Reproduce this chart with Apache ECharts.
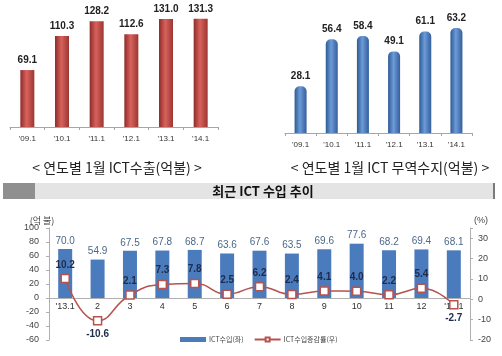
<!DOCTYPE html>
<html><head><meta charset="utf-8">
<script src="https://cdn.jsdelivr.net/npm/echarts@6/dist/echarts.min.js"></script>
<style>html,body{margin:0;padding:0;background:#fff}#c{width:502px;height:356px}</style>
</head><body><div id="c"></div>
<script>
const years = ["'09.1","'10.1","'11.1","'12.1","'13.1","'14.1"];
const exportVals = [69.1,110.3,128.2,112.6,131.0,131.3];
const balanceVals = [28.1,56.4,58.4,49.1,61.1,63.2];
const months = ["'13.1","2","3","4","5","6","7","8","9","10","11","12","'14.1"];
const importVals = [70.0,54.9,67.5,67.8,68.7,63.6,67.6,63.5,69.6,77.6,68.2,69.4,68.1];
const growthVals = [10.2,-10.6,2.1,7.3,7.8,2.5,6.2,2.4,4.1,4.0,2.2,5.4,-2.7];
const belowIdx = [1,12];

const KR = '"Noto Sans CJK KR", sans-serif';
const NUM = '"Liberation Sans", Arial, sans-serif';
const chart = echarts.init(document.getElementById('c'), null, {renderer:'canvas'});

const redGrad = new echarts.graphic.LinearGradient(0,0,1,0,[
  {offset:0,color:'#8e2c29'},{offset:0.45,color:'#d8625d'},{offset:1,color:'#9c3531'}]);
const blueGrad = new echarts.graphic.LinearGradient(0,0,1,0,[
  {offset:0,color:'#2c5a94'},{offset:0.45,color:'#6d9bd8'},{offset:1,color:'#335f9c'}]);

const smallX = (i)=>({
  type:'category', gridIndex:i, data:years,
  axisLine:{lineStyle:{color:'#a6a6a6'}},
  axisTick:{show:true, alignWithLabel:false, lineStyle:{color:'#a6a6a6'}, length:3},
  axisLabel:{fontSize:8, color:'#333', fontFamily:NUM, margin:8}
});

const option = {
  animation:false,
  textStyle:{fontFamily:NUM},
  grid:[
    {left:10, top:10, width:208, height:117},
    {left:285, top:20, width:187, height:113},
    {left:49, top:228, width:421, height:112}
  ],
  xAxis:[
    smallX(0), smallX(1),
    {type:'category', gridIndex:2, data:months, position:'bottom', offset:-42,
     axisLine:{onZero:false, lineStyle:{color:'#b0b0b0'}},
     axisTick:{show:false},
     axisLabel:{fontSize:9, color:'#333', margin:4, fontFamily:NUM}}
  ],
  yAxis:[
    {type:'value', gridIndex:0, min:0, max:142, show:false},
    {type:'value', gridIndex:1, min:0, max:68, show:false},
    {type:'value', gridIndex:2, min:-60, max:100, interval:20,
     splitLine:{show:false},
     axisLine:{show:true, lineStyle:{color:'#b0b0b0'}},
     axisTick:{show:true, length:3, lineStyle:{color:'#b0b0b0'}},
     axisLabel:{fontSize:9, color:'#444', margin:10, fontFamily:NUM}},
    {type:'value', gridIndex:2, position:'right', min:-20, max:35, interval:10,
     alignTicks:false,
     splitLine:{show:false},
     axisLine:{show:true, lineStyle:{color:'#b0b0b0'}},
     axisTick:{show:true, length:3, lineStyle:{color:'#b0b0b0'}},
     axisLabel:{fontSize:9, color:'#444', margin:8, fontFamily:NUM,
       formatter:(v)=> v>30 ? '' : String(v)}}
  ],
  legend:{
    left:175, top:331, itemGap:10, itemWidth:26, itemHeight:5,
    textStyle:{fontSize:7, color:'#444', fontFamily:KR, padding:[0,0,0,-2]},
    data:[{name:'ICT수입(좌)', icon:'rect'},{name:'ICT수입증감률(우)'}]
  },
  series:[
    {type:'bar', xAxisIndex:0, yAxisIndex:0, data:exportVals, barWidth:14,
     itemStyle:{color:redGrad},
     label:{show:true, position:'top', fontSize:10, fontWeight:'bold', color:'#222', distance:5,
       formatter:(p)=>p.value.toFixed(1)}},
    {type:'bar', xAxisIndex:1, yAxisIndex:1, data:balanceVals, barWidth:12,
     itemStyle:{color:blueGrad, borderRadius:[5,5,0,0]},
     label:{show:true, position:'top', fontSize:10, fontWeight:'bold', color:'#222', distance:5,
       formatter:(p)=>p.value.toFixed(1)}},
    {name:'ICT수입(좌)', type:'bar', xAxisIndex:2, yAxisIndex:2, data:importVals, barWidth:14,
     itemStyle:{color:'#4a7bbd'},
     label:{show:true, position:'top', fontSize:10, color:'#4a6888', distance:3,
       formatter:(p)=>p.value.toFixed(1)}},
    {name:'ICT수입증감률(우)', type:'line', xAxisIndex:2, yAxisIndex:3, smooth:true,
     data:growthVals.map((v,i)=>({value:v, label:{position: belowIdx.includes(i)?'bottom':'top'}})),
     symbol:'rect', symbolSize:8,
     lineStyle:{color:'#b5534f', width:1.5},
     itemStyle:{color:'#fff', borderColor:'#b5534f', borderWidth:1.5},
     label:{show:true, fontSize:10, fontWeight:'bold', color:'#1f2b4a', distance:4,
       formatter:(p)=>p.value.toFixed(1)},
     z:5}
  ],
  graphic:[
    {type:'text', style:{text:'< 연도별 1월 ICT수출(억불) >', font:'14px '+KR, fill:'#222', x:117, y:168, textAlign:'center', textVerticalAlign:'middle'}},
    {type:'text', style:{text:'< 연도별 1월 ICT 무역수지(억불) >', font:'14px '+KR, fill:'#222', x:390, y:168, textAlign:'center', textVerticalAlign:'middle'}},
    {type:'rect', shape:{x:3, y:183, width:32, height:16}, style:{fill:'#8f8f8f'}},
    {type:'rect', shape:{x:35, y:183, width:458, height:16}, style:{fill:'#e4e4e4'}},
    {type:'rect', shape:{x:493, y:183, width:2, height:16}, style:{fill:'#7a7a7a'}},
    {type:'text', style:{text:'최근 ICT 수입 추이', font:'bold 13px '+KR, fill:'#111', x:263, y:191, textAlign:'center', textVerticalAlign:'middle'}},
    {type:'text', style:{text:'(억 불)', font:'9px '+KR, fill:'#444', x:42, y:221, textAlign:'center', textVerticalAlign:'middle'}},
    {type:'text', style:{text:'(%)', font:'9px '+NUM, fill:'#444', x:481, y:221, textAlign:'center', textVerticalAlign:'middle'}}
  ]
};
chart.setOption(option);
</script></body></html>
